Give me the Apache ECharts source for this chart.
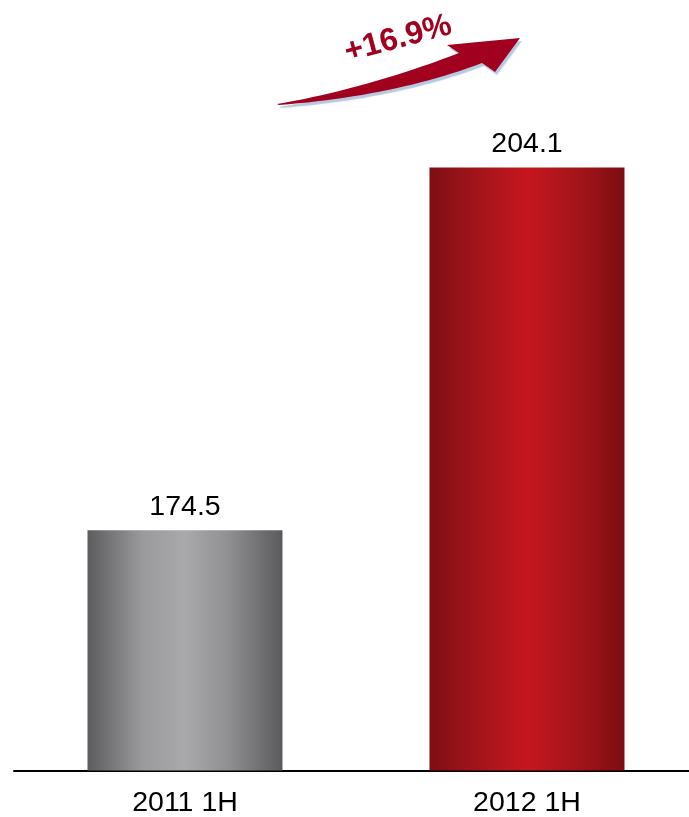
<!DOCTYPE html>
<html>
<head>
<meta charset="utf-8">
<script src="https://cdn.jsdelivr.net/npm/echarts@6/dist/echarts.min.js"></script>
<style>
  html, body { margin: 0; padding: 0; background: #fff; }
  #chart { width: 689px; height: 817px; }
</style>
</head>
<body>
<div id="chart"></div>
<script>
// Half-year figures
const categories = ['2011 1H', '2012 1H'];
const values = [174.5, 204.1];
const growthLabel = '+16.9%';

const FONT = "'Liberation Sans', Arial, sans-serif";

// Cylinder-like horizontal shading for each bar
function hGradient(stops) {
  return { type: 'linear', x: 0, y: 0, x2: 1, y2: 0, colorStops: stops };
}
const greyFill = hGradient([
  { offset: 0, color: '#5c5c5e' },
  { offset: 0.28, color: '#9a9a9d' },
  { offset: 0.5, color: '#a9a9ac' },
  { offset: 0.72, color: '#909093' },
  { offset: 1, color: '#5b5b5d' }
]);
const redFill = hGradient([
  { offset: 0, color: '#7d0e13' },
  { offset: 0.18, color: '#9a131a' },
  { offset: 0.5, color: '#c6171f' },
  { offset: 0.82, color: '#9b1319' },
  { offset: 1, color: '#7a0d12' }
]);
const fills = [greyFill, redFill];

// Sample a quadratic curve into polygon points
function quad(p0, c, p1, n) {
  const pts = [];
  for (let i = 0; i <= n; i++) {
    const t = i / n, u = 1 - t;
    pts.push([u * u * p0[0] + 2 * u * t * c[0] + t * t * p1[0],
              u * u * p0[1] + 2 * u * t * c[1] + t * t * p1[1]]);
  }
  return pts;
}
// Growth arrow outline: curved upper edge, head, curved lower edge back to the tail
const arrowPoints = [].concat(
  quad([277, 104], [365, 89], [459, 53], 24),
  [[447, 45], [520, 38], [495, 72]],
  quad([482, 63], [395, 96], [279, 105], 24)
);

const chart = echarts.init(document.getElementById('chart'), null, { renderer: 'canvas' });

chart.setOption({
  animation: false,
  backgroundColor: '#ffffff',
  grid: {
    left: 14, width: 684, top: 96.5, bottom: 46.5,
    containLabel: false,
    outerBoundsMode: 'none'
  },
  xAxis: {
    type: 'category',
    data: categories,
    axisLine: { show: true, lineStyle: { color: '#000', width: 2 } },
    axisTick: { show: false },
    axisLabel: { color: '#000', fontSize: 28.5, fontFamily: FONT, margin: 18 }
  },
  yAxis: {
    type: 'value',
    min: 154.9,
    max: 209.9,
    show: false,
    splitLine: { show: false }
  },
  series: [{
    type: 'bar',
    barWidth: 195,
    data: values.map((v, i) => ({ value: v, itemStyle: { color: fills[i] } })),
    label: {
      show: true,
      position: 'top',
      distance: 9,
      color: '#000',
      fontSize: 28.5,
      fontFamily: FONT,
      formatter: p => p.value.toFixed(1)
    }
  }],
  graphic: [
    {
      type: 'polygon',
      shape: { points: arrowPoints },
      style: {
        fill: '#a1001f',
        shadowColor: 'rgba(175,195,220,0.9)',
        shadowOffsetX: 2,
        shadowOffsetY: 3,
        shadowBlur: 1
      },
      z: 10
    },
    {
      type: 'text',
      x: 398,
      y: 39,
      rotation: 15 * Math.PI / 180,
      style: {
        text: growthLabel,
        fill: '#a1001f',
        font: 'bold 32px ' + FONT,
        align: 'center',
        verticalAlign: 'middle'
      },
      z: 11
    }
  ]
});
</script>
</body>
</html>
